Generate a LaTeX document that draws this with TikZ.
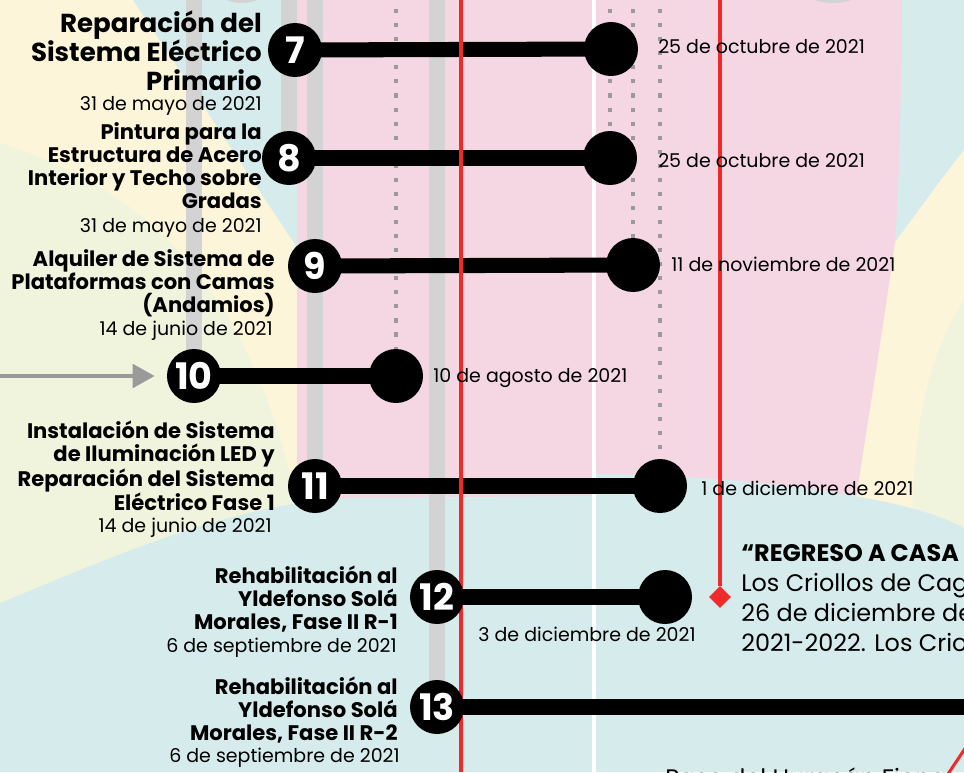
\documentclass[tikz,border=0pt]{standalone}
\usepackage{fontspec}
\setmainfont{Poppins}
\usepackage{tikz}
\usetikzlibrary{arrows.meta}
\usetikzlibrary{shapes.geometric}
\usepackage{xcolor}
\definecolor{crema}{HTML}{FDF5D9}
\definecolor{verdep}{HTML}{F0F4DD}
\definecolor{cian}{HTML}{D6EBEC}
\definecolor{rosa}{HTML}{F5D7E3}
\definecolor{grisb}{HTML}{D3D3D3}
\definecolor{grisp}{HTML}{9A9A9A}
\definecolor{rojo}{HTML}{EE2A2A}
\pgfdeclarelayer{fondo}
\pgfsetlayers{fondo,main}
\tikzset{
  num_n/.style = {circle, fill=black, text=white, inner sep=0pt,
    minimum size=1.35cm, font=\fontsize{26}{26}\selectfont\bfseries},% nodo con numero
  fin_n/.style = {circle, fill=black, inner sep=0pt, minimum size=1.35cm},% nodo final
  rombo_n/.style = {diamond, fill=rojo, inner sep=0pt, minimum size=0.55cm},% marca roja
  tit_t/.style = {align=right, anchor=east, inner sep=0pt,
    font=\fontsize{15}{16.4}\selectfont\bfseries},% titulo
  titg_t/.style = {tit_t, font=\fontsize{18.5}{20.6}\selectfont\bfseries},% titulo grande
  fecha_t/.style = {inner sep=0pt, font=\fontsize{13.5}{15}\selectfont},% fecha
  bloque_t/.style = {align=left, anchor=west, inner sep=0pt,
    font=\fontsize{17}{21.3}\selectfont},% texto lateral
  barra/.style = {line width=10.7pt},
  banda/.style = {grisb, line width=11pt},
  puntos/.style = {grisp, line width=2.9pt, dash pattern=on 2.9pt off 7.1pt},
  linea_r/.style = {rojo, line width=2.8pt},
  flecha/.style = {grisp, line width=3.2pt,
    -{Triangle[length=0.55cm, width=0.58cm]}, shorten >=0.3cm}
}

\begin{document}
\begin{tikzpicture}[x=0.025cm, y=-0.025cm]
\useasboundingbox (0,0) rectangle (964,772);
% fondo de colores
\begin{pgfonlayer}{fondo}
\fill[crema] (0,0) rectangle (964,772);
\fill[verdep] (0,143) .. controls (170,195) and (262,320) .. (300,520) -- (0,640) -- cycle;
\fill[verdep] (964,300) .. controls (925,360) and (910,440) .. (912,560) -- (964,560) -- cycle;
\fill[cian] (133,0) -- (300,0) -- (300,252) -- cycle;
\fill[cian] (890,0) -- (964,0) -- (964,150) .. controls (940,180) and (915,215) .. (895,242) -- cycle;
\fill[rosa] (297,0) -- (902,0) .. controls (901,90) and (900,170) .. (895,242)
  .. controls (880,350) and (866,430) .. (856,500) -- (297,510) -- cycle;
\fill[cian] (0,603) .. controls (110,558) and (220,508) .. (340,498) -- (594,496) -- (594,474)
  .. controls (700,475) and (800,485) .. (860,497) .. controls (905,505) and (940,515) .. (964,528)
  -- (964,772) -- (0,772) -- cycle;
\fill[grisb] (242,-36) circle (0.975cm);
\fill[grisb] (833,-55) circle (1.45cm);
\draw[white, line width=2.2pt] (594,0) -- (594,772);
\end{pgfonlayer}

\coordinate (arriba) at (0,-5);
\coordinate (izq) at (-5,376);
\coordinate (e13) at (990,707);
\draw[linea_r] (461,0) -- (461,772);

\node[num_n] (n7) at (295,50) {7};
\node[num_n] (n8) at (289,158) {8};
\node[num_n] (n9) at (315,266) {9};
\node[num_n] (n10) at (194,376) {10};
\node[num_n] (n11) at (315,486) {11};
\node[num_n] (n12) at (437,597) {12};
\node[num_n] (n13) at (437,707) {13};
\node[fin_n] (e7) at (611,49) {};
\node[fin_n] (e8) at (610,158) {};
\node[fin_n] (e9) at (633,265) {};
\node[fin_n] (e10) at (396,376) {};
\node[fin_n] (e11) at (660,486) {};
\node[fin_n] (e12) at (665,597) {};
\node[rombo_n] (r1) at (720,597) {};
\draw[linea_r] (r1 |- arriba) -- (r1);

\begin{pgfonlayer}{fondo}
\draw[banda] (n8 |- arriba) -- (n8.center);
\draw[banda] (n11 |- arriba) -- (n11.center);
\draw[banda] (n10 |- arriba) -- (n10.center);
\draw[banda] (n13 |- arriba) -- (n13.center);
\draw[puntos] (e10 |- arriba) -- (e10.center);
\draw[puntos] (e8 |- arriba) -- (e8.center);
\draw[puntos] (e9 |- arriba) -- (e9.center);
\draw[puntos] (e11 |- arriba) -- (e11.center);
\draw[barra] (n7.center) -- (e7.center);
\draw[barra] (n8.center) -- (e8.center);
\draw[barra] (n9.center) -- (e9.center);
\draw[barra] (n10.center) -- (e10.center);
\draw[barra] (n11.center) -- (e11.center);
\draw[barra] (n12.center) -- (e12.center);
\draw[barra] (n13.center) -- (e13);
\draw[flecha] (izq) -- (n10);
\end{pgfonlayer}

% titulos y fechas
\node[titg_t] (t7) at (262,51) {Reparación del\\Sistema Eléctrico\\Primario};
\node[tit_t] (t8) at (262,166) {Pintura para la\\Estructura de Acero\\Interior y Techo sobre\\Gradas};
\node[tit_t] (t9) at (275,283) {Alquiler de Sistema de\\Plataformas con Camas\\(Andamios)};
\node[tit_t] (t11) at (275,466) {Instalación de Sistema\\de Iluminación LED y\\Reparación del Sistema\\Eléctrico Fase 1};
\node[tit_t] (t12) at (398,599) {Rehabilitación al\\Yldefonso Solá\\Morales, Fase II R-1};
\node[tit_t] (t13) at (398,710) {Rehabilitación al\\Yldefonso Solá\\Morales, Fase II R-2};
\node[fecha_t, anchor=east] (s7) at (262,106) {31 de mayo de 2021};
\node[fecha_t, anchor=east] (s8) at (262,228) {31 de mayo de 2021};
\node[fecha_t, anchor=east] (s9) at (273,331) {14 de junio de 2021};
\node[fecha_t, anchor=east] (s11) at (272,528) {14 de junio de 2021};
\node[fecha_t, anchor=east] (s12) at (397,648) {6 de septiembre de 2021};
\node[fecha_t, anchor=east] (s13) at (400,758) {6 de septiembre de 2021};
\node[fecha_t, anchor=west] (d7) at (658,47) {25 de octubre de 2021};
\node[fecha_t, anchor=west] (d8) at (658,161) {25 de octubre de 2021};
\node[fecha_t, anchor=west] (d9) at (671,264) {11 de noviembre de 2021};
\node[fecha_t, anchor=west] (d10) at (433,378) {10 de agosto de 2021};
\node[fecha_t, anchor=west] (d11) at (701,488) {1 de diciembre de 2021};
\node[fecha_t] (d12) at (587,634) {3 de diciembre de 2021};
\node[bloque_t] (b1) at (741,598) {{\bfseries “REGRESO A CASA}\\Los Criollos de Cag\\26 de diciembre de\\2021-2022. Los Crio};
\node[bloque_t, anchor=base west] (p1) at (665,786) {Paso del Huracán Fiona};
\draw[linea_r, line width=2.2pt] (944,780) -- (968,744);
\end{tikzpicture}
\end{document}
